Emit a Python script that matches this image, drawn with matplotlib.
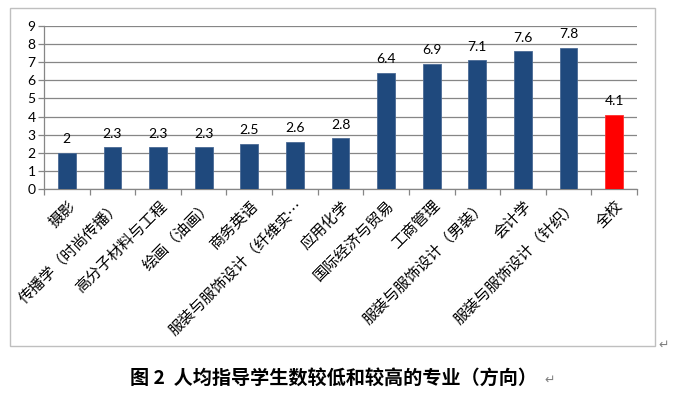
import matplotlib
matplotlib.use('Agg')
import matplotlib.pyplot as plt
import numpy as np
from matplotlib.patches import Rectangle

categories = ['摄影', '传播学（时尚传播）', '高分子材料与工程', '绘画（油画）', '商务英语',
              '服装与服饰设计（纤维实…', '应用化学', '国际经济与贸易', '工商管理',
              '服装与服饰设计（男装）', '会计学', '服装与服饰设计（针织）', '全校']
values = [2, 2.3, 2.3, 2.3, 2.5, 2.6, 2.8, 6.4, 6.9, 7.1, 7.6, 7.8, 4.1]
value_labels = ['2', '2.3', '2.3', '2.3', '2.5', '2.6', '2.8', '6.4', '6.9', '7.1', '7.6', '7.8', '4.1']
bar_colors = ['#1F497D'] * 12 + ['#FF0000']
y_ticks = list(range(0, 10))
caption = '图 2  人均指导学生数较低和较高的专业（方向）'

W, H = 673, 396
fig = plt.figure(figsize=(W / 100, H / 100), dpi=100)

# outer chart frame
fig.patches.append(Rectangle((10 / W, 1 - 346 / H), 645 / W, 338 / H,
                             transform=fig.transFigure, fill=False,
                             edgecolor='#bfbfbf', linewidth=1.0))

ax = fig.add_axes([44 / W, 1 - 189 / H, 593 / W, 163 / H])
x = np.arange(len(categories))
ax.bar(x, values, width=0.39, color=bar_colors, zorder=3,
       edgecolor=['#4a6a95'] * 12 + ['#ff3030'], linewidth=0.6)

ax.set_xlim(-0.5, len(categories) - 0.5)
ax.set_ylim(0, 9)
ax.set_yticks(y_ticks)
ax.yaxis.grid(True, color='#868686', linewidth=0.9, zorder=0)
ax.set_axisbelow(True)

for s in ['top', 'right']:
    ax.spines[s].set_visible(False)
for s in ['left', 'bottom']:
    ax.spines[s].set_color('#868686')
    ax.spines[s].set_linewidth(0.9)

ax.tick_params(axis='y', length=4, color='#868686', width=0.9, pad=2,
               labelsize=10)
for lab in ax.get_yticklabels():
    lab.set_family(['Lato', 'DejaVu Sans'])

ax.set_xticks(x)
ax.set_xticklabels(categories, rotation=45, ha='right', va='top',
                   rotation_mode='anchor', fontsize=11,
                   family=['Noto Sans CJK SC', 'DejaVu Sans'])
ax.tick_params(axis='x', which='major', length=0, pad=6)
ax.set_xticks(np.arange(-0.5, len(categories), 1), minor=True)
ax.tick_params(axis='x', which='minor', length=4, color='#868686', width=0.9)

for xi, v, lab in zip(x, values, value_labels):
    ax.annotate(lab, (xi, v), xytext=(0, 7), textcoords='offset points',
                ha='center', va='baseline', fontsize=10,
                family=['Lato', 'DejaVu Sans'], color='#000000')

fig.text(130 / W, 1 - 378 / H, caption, ha='left', va='center',
         fontsize=13.8, fontweight='bold',
         family=['Noto Sans CJK SC', 'DejaVu Sans'])
fig.text(544 / W, 1 - 380 / H, '↵', ha='left', va='center', fontsize=9,
         color='#808080', family=['DejaVu Sans'])
fig.text(658 / W, 1 - 345 / H, '↵', ha='left', va='center', fontsize=9,
         color='#808080', family=['DejaVu Sans'])

fig.savefig('out.png', dpi=100)
